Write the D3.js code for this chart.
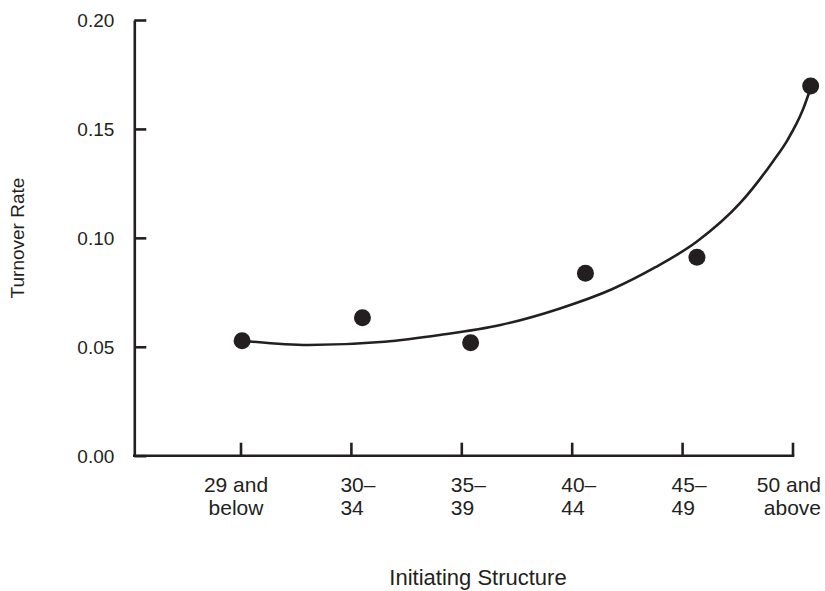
<!DOCTYPE html>
<html><head>
<meta charset="utf-8">
<title>Turnover Rate</title>
<style>
  body {margin: 0; background: #fff;}
  text {font-family: "Liberation Sans", Arial, sans-serif; fill: #231f20;}
</style>
</head>
<body>
<script src="https://d3js.org/d3.v7.min.js"></script>
<script>
// categories and tick labels (two lines each)
var categories = [["29 and", "below"], ["30–", "34"], ["35–", "39"], ["40–", "44"], ["45–", "49"], ["50 and", "above"]];
var yTicks = [0, 0.05, 0.10, 0.15, 0.20];

// observed points: position along the category axis, turnover rate
var pointPos = [0.01, 1.10, 2.08, 3.12, 4.13, 5.16];
var pointVal = [0.0528, 0.0633, 0.0519, 0.0837, 0.0911, 0.1697];

// fitted curve
var curvePos = [0.01, 0.61, 1.30, 1.80, 2.35, 2.89, 3.36, 3.75, 4.13, 4.52, 4.82, 4.95, 5.09, 5.16];
var curveVal = [0.0528, 0.0508, 0.0523, 0.0554, 0.0600, 0.0676, 0.0764, 0.0864, 0.0983, 0.1159, 0.1352, 0.1449, 0.1589, 0.1688];

var width = 825, height = 591;
var ink = "#231f20";

var svg = d3.select("body").append("svg")
    .attr("width", width)
    .attr("height", height);

var x = d3.scaleLinear().domain([0, 5]).range([241, 793]);
var y = d3.scaleLinear().domain([0, 0.20]).range([455.7, 20]);
var axisX = 134.3;

// y axis: ticks point inward
var yAxis = svg.append("g")
    .attr("transform", "translate(" + axisX + ",0)")
    .call(d3.axisRight(y).tickValues(yTicks).tickSize(12).tickSizeOuter(0).tickFormat(d3.format(".2f")));
yAxis.select(".domain").attr("stroke", ink).attr("stroke-width", 2.6);
yAxis.selectAll(".tick line").attr("stroke", ink).attr("stroke-width", 2.6);
yAxis.selectAll(".tick text")
    .attr("x", -20)
    .attr("text-anchor", "end")
    .attr("font-size", 19)
    .attr("dy", "0.35em")
    .attr("fill", ink);

// x axis: line from y axis to last tick, ticks pointing up
var xAxis = svg.append("g");
xAxis.append("line")
    .attr("x1", axisX - 1.3).attr("x2", x(5) + 1.3)
    .attr("y1", y(0)).attr("y2", y(0))
    .attr("stroke", ink).attr("stroke-width", 2.6);
var xt = xAxis.selectAll(".xtick")
    .data(categories)
    .enter().append("g")
    .attr("class", "xtick")
    .attr("transform", function(d, i) { return "translate(" + x(i) + "," + y(0) + ")"; });
xt.append("line")
    .attr("y1", 0).attr("y2", -13)
    .attr("stroke", ink).attr("stroke-width", 2.6);
xt.append("text")
    .attr("font-size", 21)
    .attr("text-anchor", function(d, i) { return i === 0 ? "middle" : (i === categories.length - 1 ? "end" : "start"); })
    .attr("transform", function(d, i) {
        var dx = i === 0 ? -5 : (i === categories.length - 1 ? 28 : -11);
        return "translate(" + dx + ",0)";
    })
    .selectAll("tspan")
    .data(function(d) { return d; })
    .enter().append("tspan")
    .attr("x", 0)
    .attr("y", function(d, j) { return 36 + j * 23; })
    .text(function(d) { return d; });

// fitted curve
var curveData = curvePos.map(function(p, i) { return [p, curveVal[i]]; });
var line = d3.line()
    .x(function(d) { return x(d[0]); })
    .y(function(d) { return y(d[1]); })
    .curve(d3.curveMonotoneX);
svg.append("path")
    .datum(curveData)
    .attr("d", line)
    .attr("fill", "none")
    .attr("stroke", ink)
    .attr("stroke-width", 2.6);

// points
var pts = pointPos.map(function(p, i) { return [p, pointVal[i]]; });
svg.selectAll(".dot")
    .data(pts)
    .enter().append("circle")
    .attr("class", "dot")
    .attr("cx", function(d) { return x(d[0]); })
    .attr("cy", function(d) { return y(d[1]); })
    .attr("r", 8.5)
    .attr("fill", ink);

// axis titles
svg.append("text")
    .attr("x", 478)
    .attr("y", 585)
    .attr("text-anchor", "middle")
    .attr("font-size", 22)
    .text("Initiating Structure");
svg.append("text")
    .attr("transform", "translate(24,238) rotate(-90)")
    .attr("text-anchor", "middle")
    .attr("font-size", 19)
    .text("Turnover Rate");
</script>
</body></html>
